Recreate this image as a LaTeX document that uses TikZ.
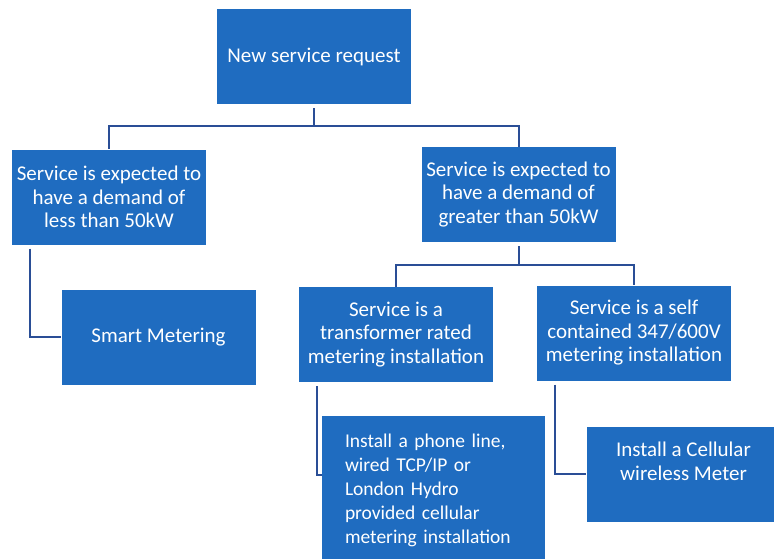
\documentclass[tikz,border=0pt]{standalone}
\usepackage{fontspec}
\setmainfont{Carlito}
\usepackage{tikz}
\usetikzlibrary{positioning,calc}
\definecolor{lhblue}{RGB}{31,108,192}
\definecolor{lhnavy}{RGB}{42,78,150}
\tikzstyle{block} = [rectangle, fill=lhblue, text=white, minimum width=194pt, minimum height=95pt, inner sep=0pt, align=center, font=\fontsize{21}{23.5}\selectfont]
\tikzstyle{link} = [line width=2pt, color=lhnavy, shorten <=4pt]

\begin{document}
\begin{tikzpicture}[x=1pt, y=-1pt]
    \useasboundingbox (0,0) rectangle (774,558);
    \clip (0,0) rectangle (774,558);

    % Request
    \node[block] (req) at (314,56.5) {New service request};

    % Demand split
    \node[block] (less) at (109,197) {Service is expected to\\have a demand of\\less than 50kW};
    \node[block] (more) at (518.5,194.5) {Service is expected to\\have a demand of\\greater than 50kW};

    % Installation type
    \node[block] (smart) at (158.5,337) {Smart Metering};
    \node[block] (trans) at (396,334.5) {Service is a\\transformer rated\\metering installation};
    \node[block] (self) at (634,333) {Service is a self\\contained 347/600V\\metering installation};

    % Communication
    \node[block, align=left, text width=177pt, inner xsep=23pt, minimum height=148pt, font=\fontsize{19.5}{24}\selectfont] (phone) at (433.5,490) {Install a phone line,\\wired TCP/IP or\\London Hydro\\provided cellular\\metering installation};
    \node[block] (cell) at (683.5,474) {};
    \node[text=white, align=center, inner sep=0pt, font=\fontsize{21}{23.5}\selectfont] (celltext) at ([yshift=12.5pt]cell.center) {Install a Cellular\\wireless Meter};

    % Connectors
    \draw[link] (req.south) -- ++(0,22) -| (less.north);
    \draw[link] (req.south) -- ++(0,22) -| (more.north);
    \draw[link] (more.south) -- ++(0,23) -| (trans.north);
    \draw[link] (more.south) -- ++(0,23) -| (self.north);
    \draw[link] ([xshift=18pt]less.south west) |- (smart.west);
    \draw[link] ([xshift=18pt]trans.south west) |- ([yshift=-59pt]phone.north west);
    \draw[link] ([xshift=18pt]self.south west) |- (cell.west);
\end{tikzpicture}
\end{document}
